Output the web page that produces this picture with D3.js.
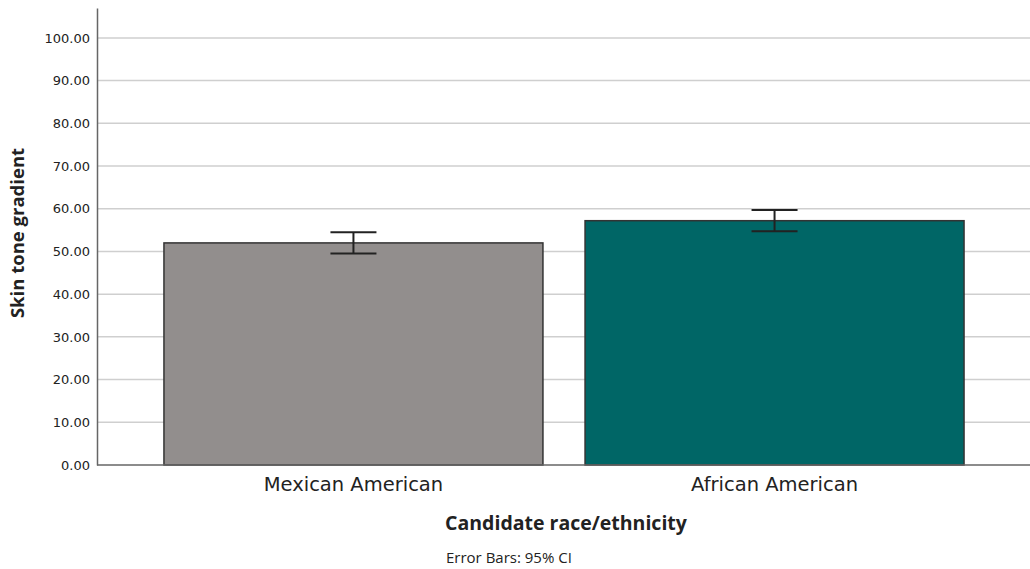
<!DOCTYPE html>
<html>
<head>
<meta charset="utf-8">
<script src="https://cdn.jsdelivr.net/npm/d3@7"></script>
<style>
  body { margin: 0; background: #fff; overflow: hidden; }
  svg { display: block; }
  svg text { fill: #222; }
</style>
</head>
<body>
<div class="chart"></div>
<script>
// values
const categories = ["Mexican American", "African American"]
const means = [52.0, 57.2]
const ciLow = [49.5, 54.7]
const ciHigh = [54.5, 59.7]
const barColors = ["#928e8d", "#006666"]
const yTicks = [0, 10, 20, 30, 40, 50, 60, 70, 80, 90, 100]

let width = 1030, height = 569
let plotLeft = 97, plotRight = 1031, plotTop = 8, plotBottom = 465

let svg = d3.select("div.chart").append("svg")
    .attr("width", width)
    .attr("height", height)

let x = d3.scaleBand()
    .domain(categories)
    .range([plotLeft, plotRight])
    .paddingInner(0.1)
    .paddingOuter(0.159)

let y = d3.scaleLinear()
    .domain([0, 107])
    .range([plotBottom, plotTop])

// gridlines
svg.append("g")
    .selectAll("line")
    .data(yTicks.filter(d => d > 0))
    .enter()
    .append("line")
    .attr("x1", plotLeft).attr("x2", width)
    .attr("y1", d => y(d)).attr("y2", d => y(d))
    .attr("stroke", "#cfcfcf")
    .attr("stroke-width", 1.5)

// y axis
let yAxis = svg.append("g")
    .attr("transform", `translate(${plotLeft},0)`)
    .call(d3.axisLeft(y).tickValues(yTicks).tickFormat(d3.format(".2f")).tickSize(0).tickPadding(7))
yAxis.select(".domain").attr("stroke", "#666").attr("stroke-width", 1.5)
yAxis.selectAll("text")
    .style("font-family", "DejaVu Sans")
    .style("font-size", "13px")
    .attr("fill", "#222")

// bars
svg.selectAll("rect.bar")
    .data(categories)
    .enter()
    .append("rect")
    .attr("class", "bar")
    .attr("x", d => x(d))
    .attr("width", x.bandwidth())
    .attr("y", (d, i) => y(means[i]))
    .attr("height", (d, i) => y(0) - y(means[i]))
    .attr("fill", (d, i) => barColors[i])
    .attr("stroke", "#333")
    .attr("stroke-width", 1.5)

// baseline
svg.append("line")
    .attr("x1", plotLeft).attr("x2", width)
    .attr("y1", y(0)).attr("y2", y(0))
    .attr("stroke", "#666")
    .attr("stroke-width", 1.5)

// error bars
let capHalf = 23
let err = svg.append("g").selectAll("g")
    .data(categories)
    .enter()
    .append("g")
    .attr("stroke", "#222")
    .attr("stroke-width", 2)
err.append("line")
    .attr("x1", d => x(d) + x.bandwidth() / 2).attr("x2", d => x(d) + x.bandwidth() / 2)
    .attr("y1", (d, i) => y(ciLow[i])).attr("y2", (d, i) => y(ciHigh[i]))
err.append("line")
    .attr("x1", d => x(d) + x.bandwidth() / 2 - capHalf).attr("x2", d => x(d) + x.bandwidth() / 2 + capHalf)
    .attr("y1", (d, i) => y(ciHigh[i])).attr("y2", (d, i) => y(ciHigh[i]))
err.append("line")
    .attr("x1", d => x(d) + x.bandwidth() / 2 - capHalf).attr("x2", d => x(d) + x.bandwidth() / 2 + capHalf)
    .attr("y1", (d, i) => y(ciLow[i])).attr("y2", (d, i) => y(ciLow[i]))

// category labels
svg.selectAll("text.cat")
    .data(categories)
    .enter()
    .append("text")
    .attr("class", "cat")
    .attr("x", d => x(d) + x.bandwidth() / 2)
    .attr("y", 491)
    .attr("text-anchor", "middle")
    .style("font-family", "DejaVu Sans")
    .style("font-size", "19.5px")
    .text(d => d)

// axis titles
svg.append("text")
    .attr("transform", "translate(24,233) rotate(-90)")
    .attr("text-anchor", "middle")
    .style("font-family", "Open Sans")
    .style("font-weight", "bold")
    .style("font-size", "18.5px")
    .text("Skin tone gradient")

svg.append("text")
    .attr("x", 566)
    .attr("y", 530)
    .attr("text-anchor", "middle")
    .style("font-family", "Open Sans")
    .style("font-weight", "bold")
    .style("font-size", "19.5px")
    .text("Candidate race/ethnicity")

svg.append("text")
    .attr("x", 446)
    .attr("y", 563)
    .style("font-family", "Open Sans")
    .style("font-size", "15px")
    .text("Error Bars: 95% CI")
</script>
</body>
</html>
